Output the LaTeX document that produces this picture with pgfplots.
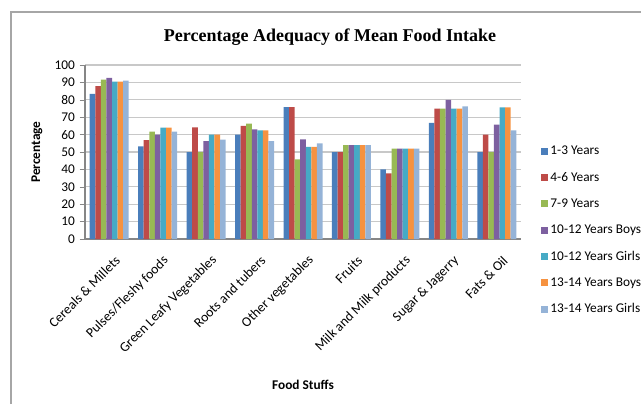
\documentclass[border=0pt]{standalone}
\usepackage{pgfplots}
\pgfplotsset{compat=1.18}
\usepackage{fontspec}
\setmainfont{Carlito}
\newfontfamily\titlefont{Liberation Serif}
\definecolor{c1}{HTML}{4A7EBB}
\definecolor{c2}{HTML}{BE4B48}
\definecolor{c3}{HTML}{98B954}
\definecolor{c4}{HTML}{7D60A0}
\definecolor{c5}{HTML}{46AAC5}
\definecolor{c6}{HTML}{F69240}
\definecolor{c7}{HTML}{95B3D7}
\definecolor{gridc}{HTML}{C8C8C8}
\definecolor{axc}{HTML}{868686}
\pgfplotstableread{
x a b c d e f g
0 83.4 87.8 91.6 92.6 90.5 90.5 91.0
1 53.3 56.8 61.7 60.0 64.0 64.0 61.7
2 50.0 64.2 50.0 56.2 60.0 60.0 57.1
3 60.0 65.0 66.3 63.0 62.5 62.5 56.2
4 75.8 75.8 45.7 57.3 53.0 53.0 54.9
5 50.0 50.0 53.9 53.9 53.9 53.9 53.9
6 40.0 37.7 52.0 52.0 52.0 52.0 52.0
7 66.7 74.9 74.9 80.0 74.9 74.9 76.2
8 50.0 60.0 50.0 65.7 75.6 75.6 62.5
}\datatable
\begin{document}
\begin{tikzpicture}
\path[use as bounding box] (0pt,0pt) rectangle (480.75pt,303pt);
\draw[color=gray!70, line width=1.1pt] (8.25pt,0pt) -- (8.25pt,294pt) -- (480.75pt,294pt);
\node[font=\titlefont\bfseries\fontsize{13.5}{15}\selectfont] at (247.5pt,275.25pt) {Percentage Adequacy of Mean Food Intake};
\node[rotate=90, font=\bfseries\fontsize{10}{12}\selectfont] at (27.75pt,189pt) {Percentage};
\node[font=\bfseries\fontsize{10}{12}\selectfont] at (227.25pt,14.25pt) {Food Stuffs};
\begin{axis}[
  at={(63.75pt,123.75pt)}, anchor=south west,
  scale only axis, width=327pt, height=130.5pt,
  ybar=0pt, bar width=0.115,
  xmin=-0.5, xmax=8.5, ymin=0, ymax=100,
  ytick={0,10,...,100},
  xtick=data,
  xticklabels={Cereals \& Millets, Pulses/Fleshy foods, Green Leafy Vegetables, Roots and tubers, Other vegetables, Fruits, Milk and Milk products, Sugar \& Jagerry, Fats \& Oil},
  xticklabel style={rotate=45, anchor=east, font=\fontsize{10.3}{12}\selectfont, xshift=0.5pt, yshift=-12pt},
  major x tick style={draw=none},
  yticklabel style={font=\fontsize{10}{12}\selectfont},
  /pgf/number format/assume math mode=true,
  ymajorgrids, grid style={gridc, line width=0.8pt},
  axis x line*=bottom, axis y line*=left,
  axis line style={axc, line width=0.8pt},
  y axis line style={-}, x axis line style={-},
  tick align=outside, major tick length=4pt,
  ytick style={axc},
  legend style={at={(1.045,0.049)}, anchor=west, draw=none, fill=none,
    font=\fontsize{10}{12}\selectfont, row sep=7.6pt, inner sep=0pt},
  legend cell align=left,
  legend image code/.code={\fill[#1] (0pt,-2.6pt) rectangle (5.2pt,2.6pt);},
]
\addplot[fill=c1, draw=none] table[x=x,y=a]{\datatable};
\addplot[fill=c2, draw=none] table[x=x,y=b]{\datatable};
\addplot[fill=c3, draw=none] table[x=x,y=c]{\datatable};
\addplot[fill=c4, draw=none] table[x=x,y=d]{\datatable};
\addplot[fill=c5, draw=none] table[x=x,y=e]{\datatable};
\addplot[fill=c6, draw=none] table[x=x,y=f]{\datatable};
\addplot[fill=c7, draw=none] table[x=x,y=g]{\datatable};
\legend{1-3 Years,4-6 Years,7-9 Years,10-12 Years Boys,10-12 Years Girls,13-14 Years Boys,13-14 Years Girls}
\end{axis}
\end{tikzpicture}
\end{document}
